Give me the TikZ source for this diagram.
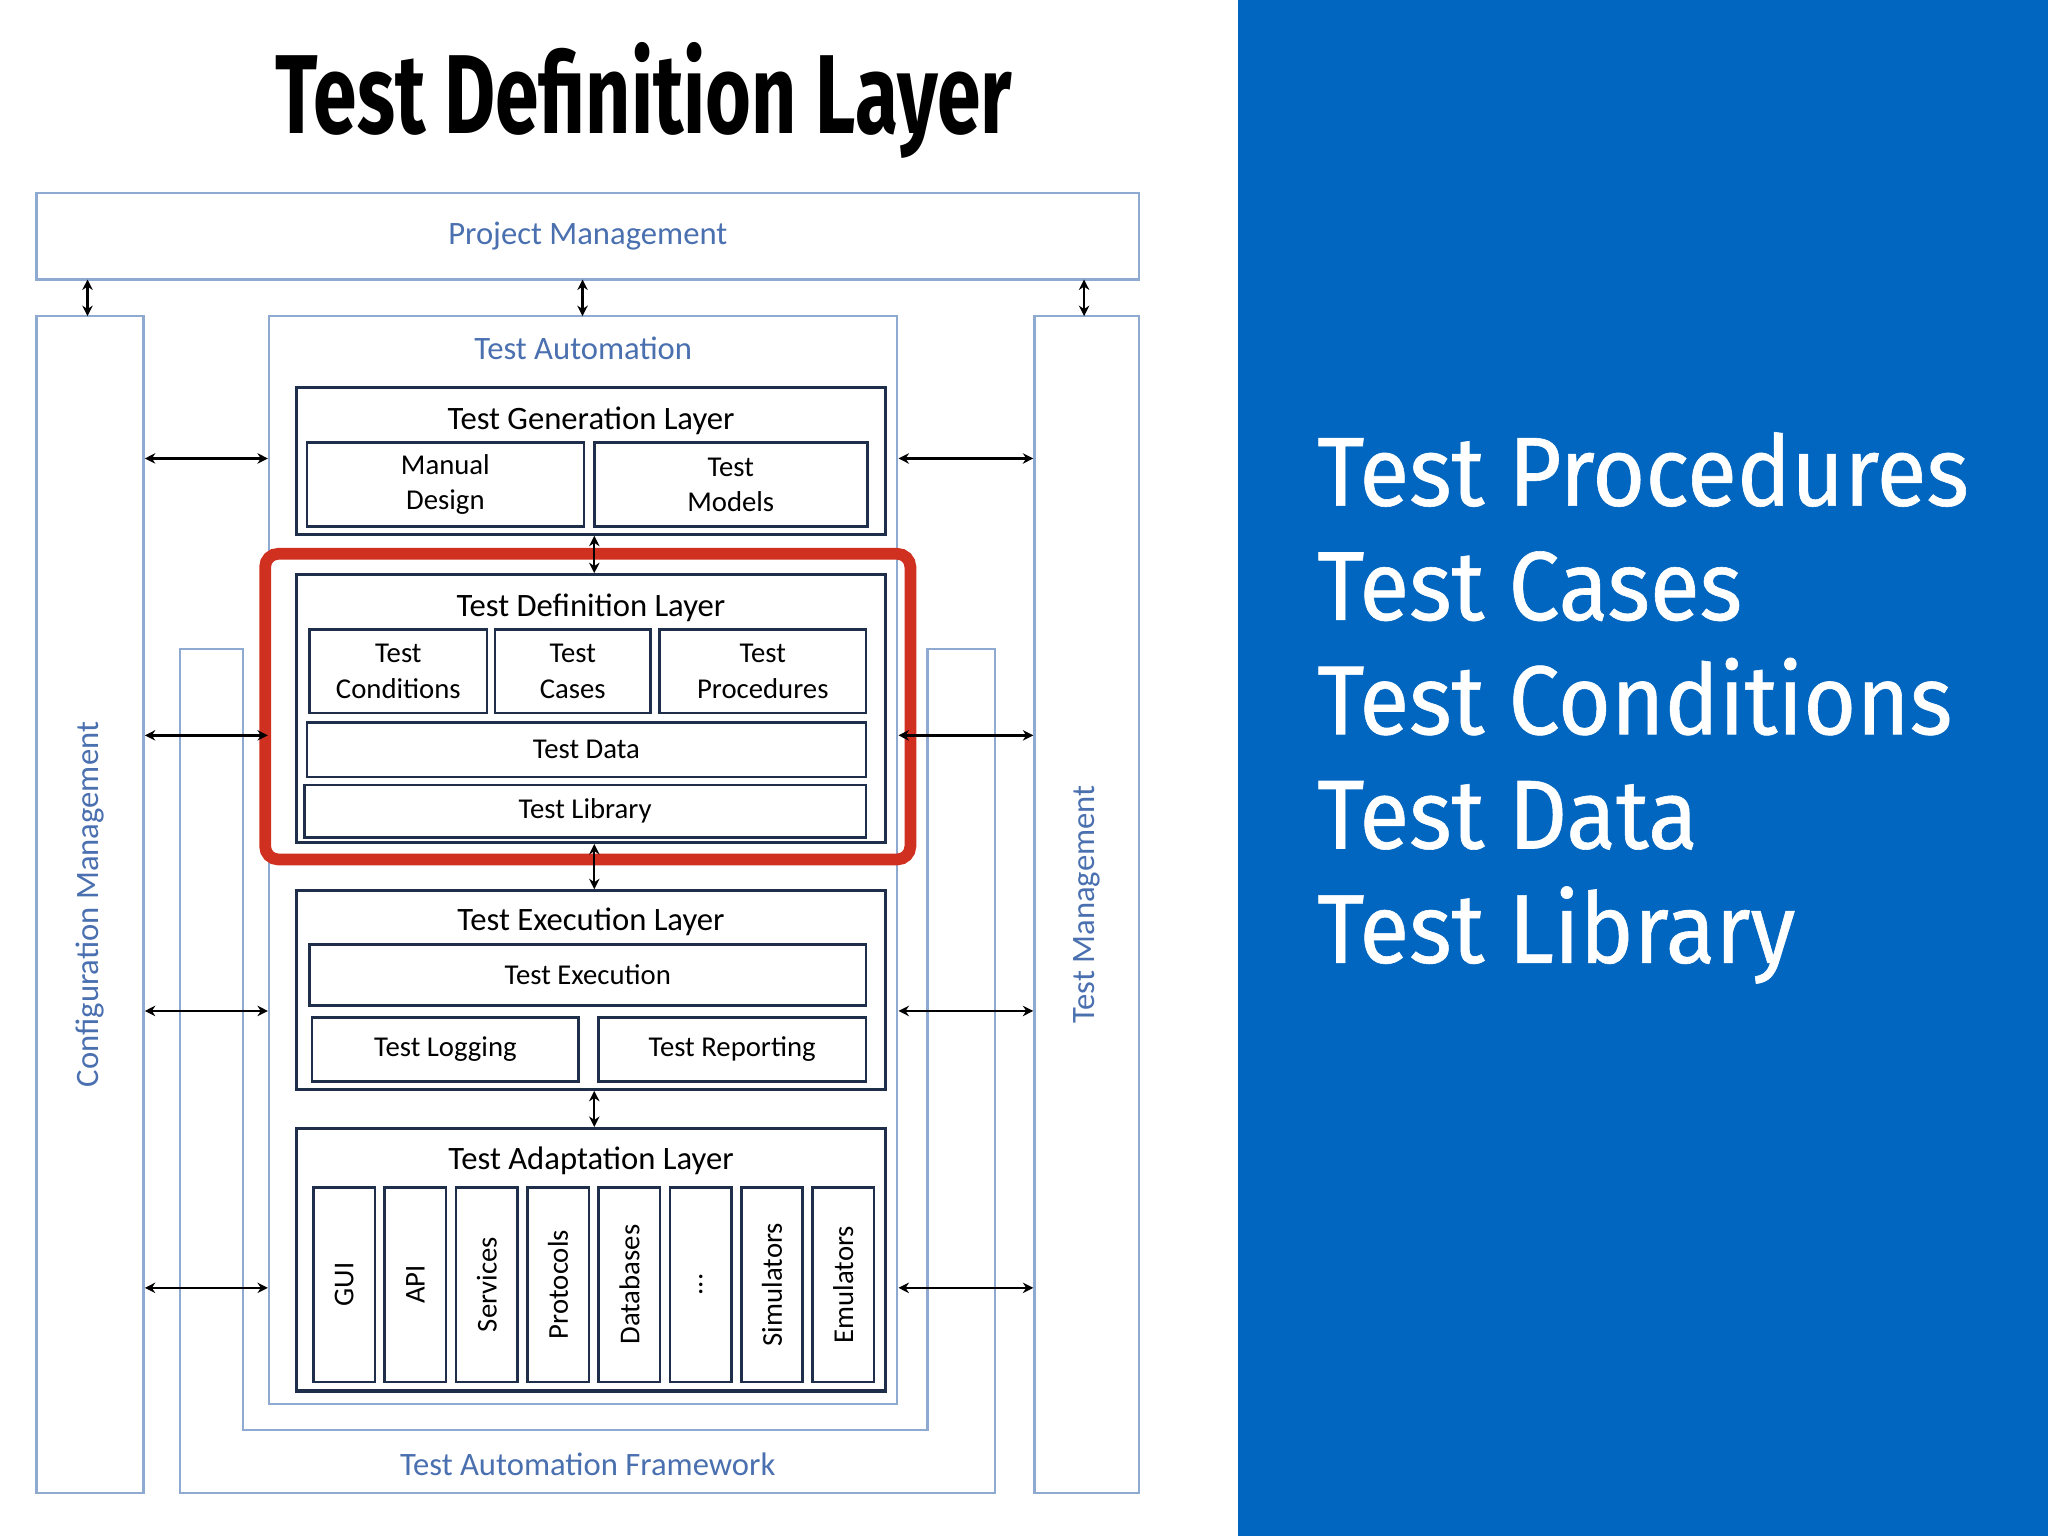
\documentclass[tikz,border=0pt]{standalone}
\usepackage{fontspec}
\setmainfont{Carlito}
\newfontfamily\titlef[FakeStretch=0.7]{Fira Sans}
\newfontfamily\sidef[FakeStretch=0.93,FakeBold=0.6]{Fira Sans}
\usetikzlibrary{arrows.meta}
\definecolor{pane}{HTML}{0066C0}
\definecolor{lb}{HTML}{8FAAD0}
\definecolor{lt}{HTML}{4A70B0}
\definecolor{nv}{HTML}{1F2E4A}
\definecolor{rd}{HTML}{D03020}
\newcommand\myell{...}
\begin{document}
\begin{tikzpicture}[x=1pt,y=-1pt,
  outer/.style={draw=lb,line width=1.8pt,fill=white},
  layer/.style={draw=nv,line width=2.4pt,fill=white},
  cell/.style={draw=nv,line width=2pt,fill=white,align=center,font=\fontsize{22}{27}\selectfont,inner sep=0pt},
  ltxt/.style={text=lt,font=\fontsize{25}{29}\selectfont},
  ttxt/.style={text=black,font=\fontsize{25}{29}\selectfont},
  arr/.style={{Stealth[length=8pt,width=8pt]}-{Stealth[length=8pt,width=8pt]},line width=1.8pt,black}]
\useasboundingbox (0,0) rectangle (1568,1176);
\fill[white] (0,0) rectangle (948,1176);
\fill[pane] (948,0) rectangle (1568,1176);
\node[font=\titlef\bfseries\fontsize{86}{96}\selectfont] (title) at (493,77) {Test Definition Layer};
% outer frames
\node[outer,minimum width=844pt,minimum height=66pt] (pm) at (450,181) {};
\node[ltxt] at (pm.center) {Project Management};
\node[outer,minimum width=82pt,minimum height=901pt] (cm) at (69,692.5) {};
\node[ltxt,rotate=90] at (cm.center) {Configuration Management};
\node[outer,minimum width=80pt,minimum height=901pt] (tm) at (832,692.5) {};
\node[ltxt,rotate=90] at (tm.center) {Test Management};
\draw[draw=lb,line width=1.8pt,fill=white] (186,497) -- (138,497) -- (138,1143) -- (762,1143) -- (762,497) -- (710,497) -- (710,1095) -- (186,1095) -- cycle;
\node[ltxt] (taf) at (450,1121) {Test Automation Framework};
\node[outer,minimum width=481pt,minimum height=833pt] (ta) at (446.5,658.5) {};
\node[ltxt] at (446.5,267) {Test Automation};
% generation
\node[layer,minimum width=451pt,minimum height=112pt] (gen) at (452.5,353) {};
\node[ttxt] at (452.5,322) {Test Generation Layer};
\node[cell,minimum width=212pt,minimum height=64pt] (md) at (341,371) {Manual\\Design};
\node[cell,minimum width=209pt,minimum height=64pt] (tmo) at (559.5,371) {Test\\Models};
% definition
\node[layer,minimum width=451pt,minimum height=205pt] (def) at (452.5,542.5) {};
\node[ttxt] at (452.5,465) {Test Definition Layer};
\node[cell,minimum width=136pt,minimum height=64pt] (tc) at (305,514) {Test\\Conditions};
\node[cell,minimum width=119pt,minimum height=64pt] (tca) at (438.5,514) {Test\\Cases};
\node[cell,minimum width=158pt,minimum height=64pt] (tp) at (584,514) {Test\\Procedures};
\node[cell,minimum width=428pt,minimum height=42pt] (td) at (449,574) {Test Data};
\node[cell,minimum width=430pt,minimum height=40pt] (tl) at (448,621) {Test Library};
\draw[rd,line width=9pt,rounded corners=10pt] (203,424) rectangle (697,658);
% execution
\node[layer,minimum width=451pt,minimum height=152pt] (exe) at (452.5,758) {};
\node[ttxt] at (452.5,706) {Test Execution Layer};
\node[cell,minimum width=426pt,minimum height=47pt] (te) at (450,746.5) {Test Execution};
\node[cell,minimum width=204pt,minimum height=49pt] (tlog) at (341,803.5) {Test Logging};
\node[cell,minimum width=205pt,minimum height=49pt] (trep) at (560.5,803.5) {Test Reporting};
% adaptation
\node[layer,minimum width=451pt,minimum height=201pt] (ada) at (452.5,964.5) {};
\node[ttxt] at (452.5,889) {Test Adaptation Layer};
\foreach \t [count=\i] in {GUI,API,Services,Protocols,Databases,\myell,Simulators,Emulators}{
  \node[cell,minimum width=47pt,minimum height=149pt] (c\i) at ({263.5+54.6*(\i-1)},983.5) {};
  \node[rotate=90,font=\fontsize{22}{27}\selectfont] at (c\i.center) {\t};
}
% arrows
\coordinate (p1) at (67,214); \coordinate (q1) at (67,242);
\coordinate (p2) at (446,214); \coordinate (q2) at (446,242);
\coordinate (p3) at (830,214); \coordinate (q3) at (830,242);
\draw[arr] (p1) -- (q1); \draw[arr] (p2) -- (q2); \draw[arr] (p3) -- (q3);
\draw[arr] (gen.south -| 455,0) -- (def.north -| 455,0);
\draw[arr] (def.south -| 455,0) -- (exe.north -| 455,0);
\draw[arr] (exe.south -| 455,0) -- (ada.north -| 455,0);
\foreach \y in {351,563,774,986}{
  \draw[arr] (cm.east |- 0,\y) -- (ta.west |- 0,\y);
  \draw[arr] (ta.east |- 0,\y) -- (tm.west |- 0,\y);
}
% side list
\node[anchor=west,text=white,align=left,font=\sidef\fontsize{75}{87.5}\selectfont] (list) at (1005,542) {Test Procedures\\Test Cases\\Test Conditions\\Test Data\\Test Library};
\end{tikzpicture}
\end{document}
